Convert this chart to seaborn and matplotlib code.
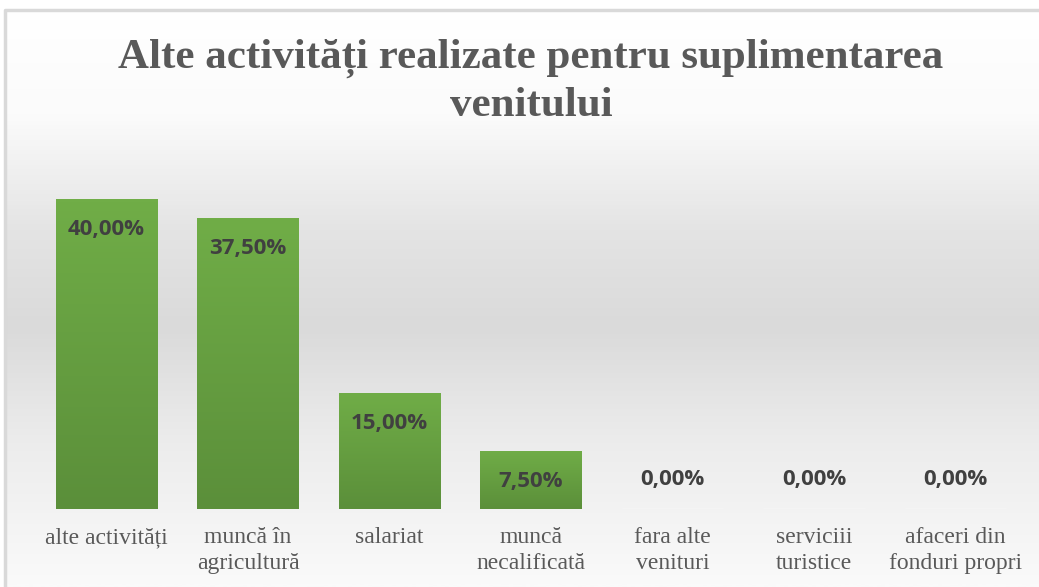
import numpy as np
import matplotlib
matplotlib.use("Agg")
import matplotlib.pyplot as plt
from matplotlib.patches import Rectangle
from matplotlib.colors import LinearSegmentedColormap
import seaborn as sns
import pandas as pd

# Data
categories = ["alte activități", "muncă în\nagricultură", "salariat", "muncă\nnecalificată",
              "fara alte\nvenituri", "serviciii\nturistice", "afaceri din\nfonduri propri"]
values = [40.0, 37.5, 15.0, 7.5, 0.0, 0.0, 0.0]
labels = ["40,00%", "37,50%", "15,00%", "7,50%", "0,00%", "0,00%", "0,00%"]
title = "Alte activități realizate pentru suplimentarea\nvenitului"

df = pd.DataFrame({"cat": categories, "val": values})

sns.set_style("white")
W, H = 1039, 587
fig = plt.figure(figsize=(W / 100, H / 100), dpi=100)

# Background gradient (whole chart area)
bg = fig.add_axes([0, 0, 1, 1], zorder=0)
bg.set_axis_off()
bg.set_xlim(0, W)
bg.set_ylim(H, 0)
ys = np.linspace(0, 1, 300)
grad_stops = [(0.0, "#ffffff"), (0.18, "#fbfbfb"), (0.38, "#e4e4e4"), (0.55, "#dadada"),
              (0.75, "#ececec"), (1.0, "#fafafa")]
bg_cmap = LinearSegmentedColormap.from_list("bg", grad_stops)
bg.imshow(ys[:, None], cmap=bg_cmap, aspect="auto", extent=(5, W, 587, 10), zorder=0)
bg.add_patch(Rectangle((0, 0), W, 10, color="white", zorder=1))
bg.add_patch(Rectangle((0, 0), 5, H, color="white", zorder=1))
bg.plot([5, 5, W], [H, 10, 10], color="#d9d9d9", lw=2.5, zorder=2)

# Chart axes
ax = fig.add_axes([35.75 / W, 78 / H, 990.5 / W, 348.75 / H], zorder=2)
ax.patch.set_alpha(0)
sns.barplot(data=df, x="cat", y="val", color="#68a543", width=0.714, ax=ax, saturation=1)
for s in ax.spines.values():
    s.set_visible(False)
ax.set_yticks([])
ax.set_xlabel("")
ax.set_ylabel("")
ax.tick_params(axis="x", length=0, pad=13)
ax.set_xticks(range(len(categories)))
ax.set_xticklabels(categories, fontsize=17, color="#595959", family="Liberation Serif",
                   linespacing=1.3, va="top")

# Vertical gradient on bars
bar_cmap = LinearSegmentedColormap.from_list("bar", ["#5b8f3a", "#70ad47"])
for p in ax.patches:
    h = p.get_height()
    if h <= 0:
        continue
    x0 = p.get_x()
    w = p.get_width()
    im = ax.imshow(np.linspace(0, 1, 100)[:, None], cmap=bar_cmap, aspect="auto",
                   extent=(x0, x0 + w, 0, h), origin="lower", zorder=3)
    im.set_clip_path(p)
    p.set_edgecolor("none")
ax.set_xlim(-0.5, len(categories) - 0.5)
ax.set_ylim(0, 45)

# Value labels (inside end)
for i, (v, lab) in enumerate(zip(values, labels)):
    off = -22 if v > 0 else 21
    ax.annotate(lab, (i, v), xytext=(0, off), textcoords="offset points",
                ha="center", va="center", fontsize=16, fontweight="bold",
                color="#404040", family="Open Sans", zorder=5)

# Title
fig.text(531 / W, 1 - 82 / H, title, ha="center", va="center", fontsize=31,
         fontweight="bold", color="#595959", family="Liberation Serif", linespacing=1.3)

fig.savefig("out.png", dpi=100)
